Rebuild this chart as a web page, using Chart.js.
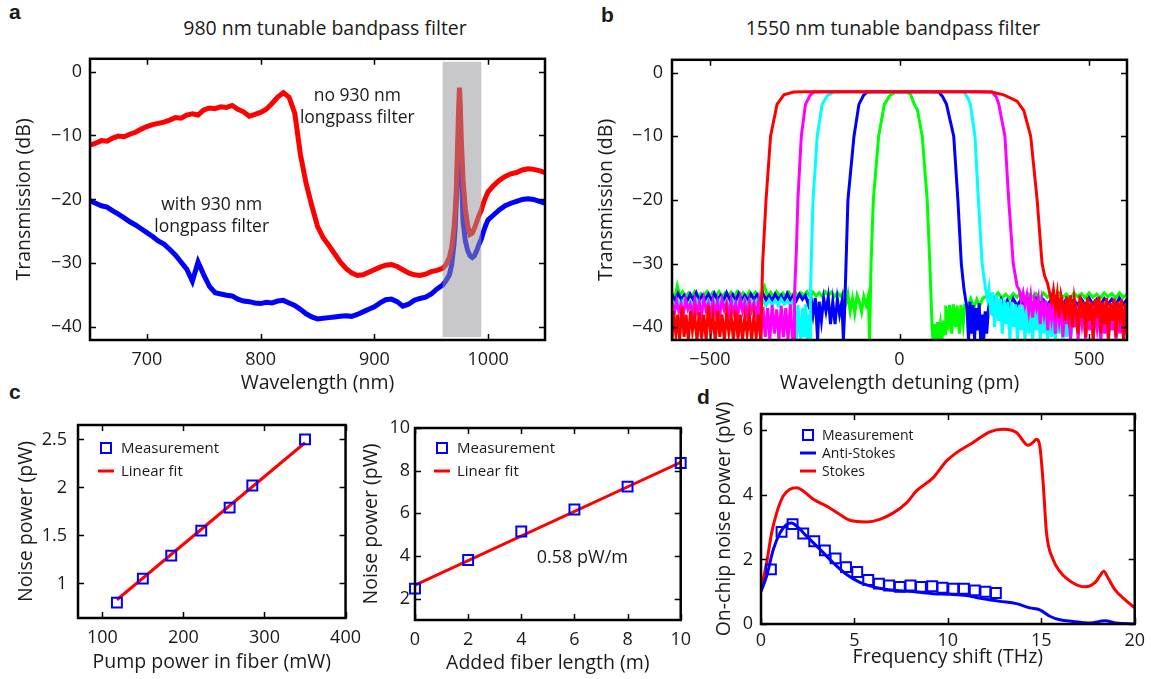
<!DOCTYPE html>
<html>
<head>
<meta charset="utf-8">
<script src="https://cdn.jsdelivr.net/npm/chart.js@4.4.1/dist/chart.umd.min.js"></script>
<style>
body { margin: 0; background: #fff; }
#page { position: relative; width: 1151px; height: 679px; overflow: hidden; font-family: "Open Sans", sans-serif; color: #1a1a1a; }
canvas { position: absolute; }
.lbl { position: absolute; font-family: "Liberation Sans", Arial, sans-serif; font-weight: bold; font-size: 21px; line-height: 20px; }
.ttl { position: absolute; font-size: 19.5px; line-height: 22px; white-space: nowrap; transform: translateX(-50%); }
</style>
</head>
<body>
<div id="page">
	<div class="lbl" style="left:9px; top:2px">a</div>
	<div class="lbl" style="left:601px; top:5px">b</div>
	<div class="lbl" style="left:9px; top:382px">c</div>
	<div class="lbl" style="left:697px; top:387px">d</div>
	<div class="ttl" style="left:325px; top:17px">980 nm tunable bandpass filter</div>
	<div class="ttl" style="left:893px; top:17px">1550 nm tunable bandpass filter</div>
	<canvas id="chart_a" width="560" height="360" style="left:0px; top:40px"></canvas>
	<canvas id="chart_b" width="560" height="360" style="left:580px; top:40px"></canvas>
	<canvas id="chart_c1" width="370" height="279" style="left:0px; top:400px"></canvas>
	<canvas id="chart_c2" width="345" height="279" style="left:355px; top:400px"></canvas>
	<canvas id="chart_d" width="451" height="289" style="left:700px; top:390px"></canvas>
</div>
<script>
// ----------------------------------------------------------------------
// a : 980 nm filter, transmission vs wavelength
const aWave = [650,655,660,665,670,675,680,685,690,695,
	700,705,710,715,720,725,730,735,740,745,
	750,755,760,765,770,775,780,785,790,795,
	800,805,810,815,820,825,830,835,840,845,
	850,855,860,865,870,875,880,885,890,895,
	900,905,910,915,920,925,930,935,940,945,
	950,955,960,
	963,966,968,970,971,972,973,974,974.8,975.5,
	976.5,978,980,982,984,986,988,990,992,994,
	996,998,1000,
	1005,1010,1015,1020,1025,1030,1035,1040,1045,1050]
const aRed = [-11.5,-11.2,-10.8,-10.9,-10.4,-10.1,-10.2,-9.8,-9.5,-9.0,
	-8.6,-8.3,-8.1,-7.9,-7.6,-7.2,-7.3,-6.8,-6.6,-6.8,
	-6.0,-5.7,-5.8,-5.5,-5.6,-5.3,-5.9,-6.3,-7.0,-6.7,
	-6.4,-5.9,-5.0,-4.0,-3.3,-4.0,-6.5,-13.0,-17.5,-21.0,
	-24.2,-26.0,-27.2,-28.5,-29.8,-30.8,-31.5,-31.9,-31.8,-31.4,
	-31.0,-30.6,-30.3,-30.2,-30.5,-31.0,-31.5,-31.8,-31.9,-31.7,
	-31.3,-31.1,-30.8,
	-30.2,-29.0,-27.5,-24.5,-22.0,-18.5,-12.5,-6.0,-2.5,-5.0,
	-11.0,-17.0,-21.5,-24.0,-25.5,-25.3,-24.5,-23.5,-22.5,-21.7,
	-20.5,-19.6,-18.8,
	-17.8,-17.0,-16.4,-16.0,-15.8,-15.4,-15.2,-15.3,-15.5,-15.8]
const aBlue = [-20.2,-20.6,-21.0,-21.2,-21.8,-22.3,-22.9,-23.5,-24.0,-24.6,
	-25.2,-25.8,-26.5,-27.0,-27.8,-28.7,-29.8,-30.9,-32.8,-29.8,
	-31.8,-33.6,-34.6,-34.8,-35.0,-35.1,-35.6,-35.9,-36.0,-36.2,
	-36.3,-36.1,-36.2,-35.9,-35.8,-36.2,-36.6,-37.2,-37.9,-38.4,
	-38.7,-38.6,-38.5,-38.4,-38.3,-38.2,-38.3,-38.0,-37.6,-37.2,
	-36.8,-36.2,-35.7,-35.6,-36.0,-36.7,-36.4,-35.8,-35.5,-35.3,
	-34.8,-34.0,-33.4,
	-32.7,-31.8,-30.2,-27.0,-24.5,-20.5,-15.0,-10.0,-8.0,-10.0,
	-16.0,-23.5,-26.5,-28.0,-28.8,-29.1,-28.8,-28.0,-27.0,-26.2,
	-25.0,-24.0,-23.2,
	-22.4,-21.6,-21.0,-20.6,-20.3,-20.0,-19.9,-20.0,-20.3,-20.6]
const aBand = [960, 994]
const aTicksX = [700, 800, 900, 1000]
const aTicksY = [-40, -30, -20, -10, 0]

// ----------------------------------------------------------------------
// b : 1550 nm filter, five passband settings [detuning pm, dB]
const bRed = [[-600,-42],[-596,-37.5],[-590,-41],[-585,-38],[-580,-42],[-574,-36.8],[-568,-41.5],[-563,-38],[-557,-42],[-551,-37.4],
	[-546,-40.5],[-540,-38.2],[-534,-42],[-528,-37.6],[-522,-41.8],[-516,-38],[-510,-42],[-504,-36.6],[-498,-41],[-492,-38.2],
	[-486,-42],[-480,-37.4],[-474,-41.5],[-468,-38],[-462,-42],[-456,-37.8],[-450,-40.8],[-444,-38.3],[-438,-42],[-432,-37.3],
	[-426,-41.8],[-420,-38],[-414,-42],[-408,-38.4],[-402,-41],[-396,-38],[-390,-42],[-384,-38.2],[-378,-41.5],[-372,-38],[-366,-42],
	[-363,-35],[-361,-30],[-352,-20],[-340,-10],[-323,-5],[-305,-3.5],[-279,-3.05],[-250,-3],[0,-3],[200,-3],
	[243,-3.05],[275,-3.5],[310,-4.5],[328,-6],[346,-10],[363,-20],[376,-30],[383,-32],[390,-33],
	[396,-34.6],[401,-36],[406,-34.2],[411,-37],[416,-34.8],[421,-38.5],[426,-35],[431,-36.5],[436,-39],[441,-35.2],
	[446,-38],[451,-35],[456,-40],[461,-35.5],[466,-37.5],[471,-41],[476,-35],[481,-38.6],[486,-36],[491,-41.5],
	[496,-35.3],[501,-39],[506,-36],[511,-42],[516,-35.6],[521,-38.5],[526,-35.2],[531,-41],[536,-36],[541,-39.5],
	[546,-35.4],[551,-42],[556,-36.2],[561,-39],[566,-35.5],[571,-41.5],[576,-36],[581,-38.4],[586,-35.6],[591,-42],[596,-36.4],[600,-39]]
const bMagenta = [[-600,-36.2],[-594,-37.8],[-588,-35.9],[-582,-37.5],[-576,-36.3],[-570,-38],[-564,-35.7],[-558,-37.2],[-552,-36.4],[-546,-38],
	[-540,-35.8],[-534,-37.6],[-528,-36.1],[-522,-38],[-516,-35.6],[-510,-37.4],[-504,-36.3],[-498,-38],[-492,-35.9],[-486,-37.7],
	[-480,-36],[-474,-38],[-468,-35.7],[-462,-37.3],[-456,-36.2],[-450,-38],[-444,-35.8],[-438,-37.6],[-432,-36.3],[-426,-38],
	[-420,-35.6],[-414,-37.5],[-408,-36.1],[-402,-38],[-396,-35.9],[-390,-37.4],[-384,-36.2],[-378,-38],[-372,-36],[-366,-42],
	[-360,-36.8],[-354,-41.5],[-348,-37],[-342,-42],[-336,-36.5],[-330,-41],[-324,-37.2],[-318,-42],[-312,-36.6],[-306,-41.6],
	[-300,-37],[-294,-42],[-288,-36.4],[-282,-41.8],[-278,-42],
	[-277,-35],[-272,-28],[-268,-20],[-259,-10],[-248,-5],[-236,-3.6],[-226,-3.05],[-200,-3],[200,-3],
	[244,-3.05],[255,-3.8],[262,-5],[278,-10],[288,-20],[300,-30],[310,-33.5],
	[316,-34.2],[321,-35.8],[326,-34.6],[331,-36.5],[336,-35],[341,-37.5],[346,-35.2],[351,-38.5],[356,-35.6],[361,-37],
	[366,-35.5],[371,-39.5],[376,-36],[381,-38],[386,-35.8],[391,-40.5],[396,-36.2],[401,-38.6],[406,-36],[411,-41],
	[416,-36.5],[421,-39],[426,-36.2],[431,-41.5],[436,-36.6],[441,-39.5],[446,-36.4],[451,-42],[456,-37],[461,-40],
	[466,-36.6],[471,-42],[476,-37.2],[481,-39.5],[486,-36.8],[491,-42],[496,-37],[501,-40.5],[506,-36.7],[511,-42],
	[516,-37.4],[521,-40],[526,-37],[531,-42],[536,-37.5],[541,-41],[546,-37.2],[551,-42],[556,-37.6],[561,-40.5],
	[566,-37.4],[571,-42],[576,-37.8],[581,-41],[586,-37.6],[591,-42],[596,-38],[600,-41]]
const bCyan = [[-600,-35.7],[-592,-36.6],[-584,-35.8],[-576,-36.5],[-568,-35.6],[-560,-36.4],[-552,-35.9],[-544,-36.7],[-536,-35.6],[-528,-36.3],
	[-520,-35.8],[-512,-36.6],[-504,-35.7],[-496,-36.5],[-488,-35.9],[-480,-36.6],[-472,-35.6],[-464,-36.4],[-456,-35.8],[-448,-36.7],
	[-440,-35.7],[-432,-36.4],[-424,-35.9],[-416,-36.6],[-408,-35.6],[-400,-36.5],[-392,-35.8],[-384,-36.6],[-376,-35.7],[-368,-36.4],
	[-360,-35.9],[-352,-36.6],[-344,-35.7],[-336,-36.5],[-328,-35.8],[-320,-36.6],[-312,-35.6],[-304,-36.4],[-296,-35.9],[-288,-36.5],
	[-280,-35.7],[-276,-38],[-272,-42],[-268,-36.5],[-264,-40],[-260,-42],[-256,-37],[-252,-41.5],[-248,-36.4],[-244,-42],[-240,-38],[-236,-42],
	[-235,-35],[-232,-28],[-228,-20],[-217,-10],[-204,-5],[-190,-3.6],[-173,-3.05],[-150,-3],[150,-3],
	[170,-3.05],[180,-4],[187,-5],[199,-10],[208,-20],[218,-30],[227,-34],
	[232,-35.5],[236,-34],[241,-38],[246,-34.5],[251,-40],[256,-35],[261,-39],[266,-35.5],[271,-41],[276,-35.6],
	[281,-39.5],[286,-36],[291,-42],[296,-36],[301,-40],[306,-36.4],[311,-42],[316,-36.5],[321,-40.5],[326,-36.6],
	[331,-42],[336,-36.8],[341,-41],[346,-37],[351,-42],[356,-37.4],[361,-40.5],[366,-37],[371,-42],[376,-37.5],
	[381,-41],[386,-37.2],[391,-42],[396,-37.8],[401,-41.5],[406,-37.5],[411,-42],[416,-38],[421,-41],[426,-37.7],
	[431,-42],[436,-38],[441,-41.5],[446,-37.8],[451,-42],[460,-38],[470,-40],[480,-38],[490,-41],[500,-38.2],
	[510,-40.5],[520,-38],[530,-41],[540,-38.3],[550,-40],[560,-38],[570,-41],[580,-38.4],[590,-40],[600,-38.5]]
const bBlue = [[-600,-34.9],[-592,-35.8],[-584,-34.7],[-576,-35.6],[-568,-35],[-560,-35.9],[-552,-34.8],[-544,-35.7],[-536,-34.6],[-528,-35.8],
	[-520,-35],[-512,-35.6],[-504,-34.8],[-496,-35.9],[-488,-34.7],[-480,-35.7],[-472,-35],[-464,-35.8],[-456,-34.6],[-448,-35.6],
	[-440,-34.9],[-432,-35.9],[-424,-34.7],[-416,-35.7],[-408,-35],[-400,-35.8],[-392,-34.8],[-384,-35.6],[-376,-34.9],[-368,-35.9],
	[-360,-34.7],[-352,-35.7],[-344,-35],[-336,-35.8],[-328,-34.8],[-320,-35.6],[-312,-35],[-304,-35.9],[-296,-34.7],[-288,-35.7],
	[-280,-35],[-272,-35.8],[-264,-34.8],[-256,-35.6],[-248,-35],[-240,-36.5],[-234,-35.2],[-228,-38],[-222,-35.4],[-216,-42],
	[-212,-36],[-206,-39],[-200,-35.5],[-194,-37.5],[-188,-35.3],[-182,-39.5],[-176,-36],[-170,-39.5],[-164,-35.6],[-158,-38],[-152,-36],[-148,-42],
	[-145,-38],[-140,-28],[-136,-20],[-120,-10],[-107,-5],[-95,-3.6],[-85,-3.05],[-60,-3],[80,-3],
	[104,-3.05],[114,-3.8],[124,-5],[143,-10],[154,-20],[163,-30],[170,-34],[174,-35.5],
	[178,-37],[182,-42],[186,-36],[190,-41],[194,-36.5],[198,-42],[202,-37],[206,-40.5],[210,-36.2],[214,-42],
	[218,-38],[222,-42],[226,-37.5],[230,-41],[236,-36],[244,-37.5],[252,-35.8],[260,-36.8],[268,-35.6],[276,-36.6],
	[284,-35.8],[292,-36.8],[300,-35.5],[310,-36.6],[320,-35.7],[330,-36.5],[340,-35.6],[350,-36.7],[360,-35.5],[370,-36.4],
	[380,-35.7],[390,-36.6],[400,-35.6],[410,-36.5],[420,-35.8],[430,-36.6],[440,-35.5],[450,-36.4],[460,-35.7],[470,-36.5],
	[480,-35.6],[490,-36.6],[500,-35.4],[510,-36.4],[520,-35.6],[530,-36.5],[540,-35.5],[550,-36.3],[560,-35.6],[570,-36.5],
	[580,-35.4],[590,-36.4],[600,-35.6]]
const bGreen = [[-600,-34.6],[-592,-35.2],[-586,-33.5],[-580,-35],[-572,-34.4],[-564,-35.2],[-556,-34.6],[-548,-35.1],[-540,-34.4],[-532,-35.2],
	[-524,-34.7],[-516,-35],[-508,-34.4],[-500,-35.2],[-492,-34.5],[-484,-35.1],[-476,-34.4],[-468,-35.2],[-460,-34.6],[-452,-35],
	[-444,-34.5],[-436,-35.2],[-428,-34.4],[-420,-35.1],[-412,-34.6],[-404,-35.2],[-396,-34.4],[-388,-35],[-380,-34.5],[-372,-35.2],
	[-364,-34.6],[-356,-33.6],[-348,-35.1],[-340,-34.5],[-332,-35.2],[-324,-34.4],[-316,-35],[-308,-34.6],[-300,-35.2],[-292,-34.5],
	[-284,-35.1],[-276,-34.4],[-268,-35.2],[-260,-34.6],[-252,-35],[-244,-34.4],[-236,-35.2],[-228,-34.5],[-220,-35.1],[-212,-34.6],
	[-204,-35.2],[-196,-34.4],[-188,-35],[-180,-34.5],[-172,-35.2],[-164,-34.6],[-156,-35.1],[-148,-34.5],[-140,-36],[-136,-34.8],
	[-130,-37.5],[-124,-35.5],[-118,-37.8],[-112,-35],[-106,-36],[-100,-37.6],[-94,-35.2],[-88,-36.5],[-82,-35],[-80,-40],
	[-79,-42],[-75,-30],[-69,-20],[-55,-10],[-40,-5],[-25,-3.6],[-10,-3.05],[5,-3],[18,-3.05],[29,-3.4],
	[39,-5],[47,-5.8],[60,-10],[73,-20],[80,-30],[86,-40],
	[88,-42],[92,-39.5],[96,-42],[100,-39.2],[104,-41.5],[108,-39.5],[112,-42],[116,-39],[120,-41],[122,-36.6],
	[128,-40.5],[132,-36.5],[138,-41],[142,-36.4],[148,-40],[152,-36.6],[158,-41],[162,-36.5],[168,-39.5],[172,-36.6],
	[180,-36.8],[188,-35.5],[196,-37],[204,-35.6],[212,-36.6],[220,-35.4],[230,-35.2],[240,-34.8],[250,-35.5],[260,-34.6],
	[270,-35.4],[280,-34.8],[290,-35.5],[300,-34.7],[310,-35.3],[320,-34.6],[330,-35.4],[340,-34.8],[350,-35.3],[360,-34.7],
	[370,-35.5],[380,-34.6],[390,-35.3],[400,-34.8],[410,-35.4],[420,-34.6],[430,-35.3],[440,-34.8],[450,-35.5],[460,-34.6],
	[470,-35.2],[480,-34.7],[490,-35.4],[500,-34.6],[510,-35.3],[520,-34.8],[530,-35.4],[540,-34.6],[550,-35.2],[560,-34.7],
	[570,-35.4],[580,-34.6],[590,-35.3],[600,-34.8]]
const bTicksX = [-500, 0, 500]
const bTicksY = [-40, -30, -20, -10, 0]

// ----------------------------------------------------------------------
// c : noise power vs pump power, and vs added fiber length
const c1Pump = [118, 150, 185, 222, 257, 285, 350]
const c1Noise = [0.80, 1.05, 1.29, 1.55, 1.79, 2.02, 2.50]
const c1FitX = [118, 350]
const c1FitY = [0.83, 2.465]
const c1TicksX = [100, 200, 300, 400]
const c1TicksY = [1, 1.5, 2, 2.5]

const c2Length = [0, 2, 4, 6, 8, 10]
const c2Noise = [2.47, 3.81, 5.15, 6.18, 7.25, 8.36]
const c2FitX = [0, 10]
const c2FitY = [2.63, 8.39]
const c2TicksX = [0, 2, 4, 6, 8, 10]
const c2TicksY = [2, 4, 6, 8, 10]

// ----------------------------------------------------------------------
// d : on-chip noise power vs frequency shift
const dMeasX = [0.53,1.1,1.69,2.26,2.85,3.42,3.99,4.55,5.15,5.74,6.31,6.86,7.43,8.0,8.56,9.16,9.71,10.29,10.86,11.44,12.01,12.57]
const dMeasY = [1.69,2.85,3.09,2.8,2.56,2.28,2.03,1.76,1.61,1.36,1.25,1.19,1.15,1.19,1.15,1.17,1.12,1.09,1.09,1.04,1.0,0.96]
const dAntiX = [0,0.3,0.66,1.02,1.37,1.64,1.91,2.44,3.16,3.87,4.58,5.29,6.01,6.72,7.43,8.32,9.22,10.1,11.0,11.9,12.78,13.67,14.38,14.92,15.46,15.99,16.7,17.6,18.4,19.0,20]
const dAntiY = [1.01,1.48,2.31,2.82,3.08,3.13,3.03,2.72,2.31,1.89,1.53,1.29,1.15,1.07,1.03,0.99,0.94,0.92,0.88,0.78,0.7,0.63,0.5,0.44,0.24,0.13,0.08,0.03,0.1,0.03,0]
const dStokesX = [0,0.3,0.57,0.84,1.19,1.55,1.91,2.26,2.8,3.51,4.22,4.76,5.65,6.36,7.08,7.79,8.32,9.22,9.93,10.46,11.35,12.25,12.96,13.67,14.3,14.56,14.74,14.92,15.1,15.28,15.63,15.99,16.7,17.33,17.86,18.13,18.34,18.57,18.93,19.37,20]
const dStokesY = [1.07,1.89,2.82,3.44,3.96,4.17,4.22,4.12,3.86,3.65,3.39,3.21,3.16,3.24,3.44,3.75,4.12,4.53,5.05,5.3,5.62,5.95,6.03,5.93,5.53,5.62,5.72,5.51,4.37,2.82,2.0,1.63,1.27,1.15,1.27,1.48,1.63,1.43,1.07,0.81,0.5]
const dTicksX = [0, 5, 10, 15, 20]
const dTicksY = [0, 2, 4, 6]

// ----------------------------------------------------------------------
const RED = '#ff0000'
const BLUE = '#0000ff'
const FONT = '"Open Sans", sans-serif'
const TICK_SIZE = 18
const TITLE_SIZE = 19.5

Chart.defaults.font.family = FONT
Chart.defaults.color = '#1a1a1a'

function zip(xs, ys) { return xs.map((x, i) => ({ x: x, y: ys[i] })) }
function pairs(arr) { return arr.map(p => ({ x: p[0], y: p[1] })) }
function minus(v) { return String(v).replace('-', '\u2212') }

// box with inward ticks on all four sides, like the original axes
const boxPlugin = {
	id: 'box',
	afterDraw(chart)
	{
	const ctx = chart.ctx
	const a = chart.chartArea
	const sx = chart.scales.x
	const sy = chart.scales.y
	ctx.save()
	ctx.strokeStyle = '#000'
	ctx.lineWidth = 1.5
	ctx.beginPath()
	sx.ticks.forEach(t => {
		const p = Math.round(sx.getPixelForValue(t.value)) + 0.5
		ctx.moveTo(p, a.bottom); ctx.lineTo(p, a.bottom - 6)
		ctx.moveTo(p, a.top); ctx.lineTo(p, a.top + 6)
		})
	sy.ticks.forEach(t => {
		const p = Math.round(sy.getPixelForValue(t.value)) + 0.5
		ctx.moveTo(a.left, p); ctx.lineTo(a.left + 6, p)
		ctx.moveTo(a.right, p); ctx.lineTo(a.right - 6, p)
		})
	ctx.stroke()
	ctx.lineWidth = 2.5
	ctx.strokeRect(a.left, a.top, a.right - a.left, a.bottom - a.top)
	ctx.restore()
	}
}
Chart.register(boxPlugin)

// ----------------------------------------------------------------------
function axis(min, max, ticks, size, pad, title, tpad, horizontal)
{
	return {
		type: 'linear',
		min: min,
		max: max,
		grid: { display: false, drawTicks: false },
		border: { display: false },
		afterBuildTicks: s => { s.ticks = ticks.map(v => ({ value: v })) },
		afterFit: s => { if (horizontal) s.height = size; else s.width = size },
		ticks: { autoSkip: false, maxRotation: 0, padding: pad,
			font: { size: TICK_SIZE }, color: '#1a1a1a', callback: v => minus(v) },
		title: { display: true, text: title, font: { size: TITLE_SIZE }, color: '#1a1a1a',
			padding: horizontal ? { top: 0, bottom: tpad } : { top: tpad, bottom: 0 } }
		}
}

function line(data, color, width, extra)
{
	return Object.assign({ data: data, borderColor: color, borderWidth: width,
		pointRadius: 0, fill: false, tension: 0, clip: 0 }, extra || {})
}

function squares(data)
{
	return { data: data, showLine: false, pointStyle: 'rect', pointRadius: 7,
		pointBorderWidth: 2, pointBorderColor: BLUE, pointBackgroundColor: 'rgba(0,0,0,0)',
		borderColor: BLUE, clip: false }
}

// legend drawn inside the plot box
function innerLegend(items, ox, oy, dy, tx, size)
{
	return {
		id: 'innerLegend',
		afterDraw(chart)
		{
		const ctx = chart.ctx
		const a = chart.chartArea
		ctx.save()
		ctx.font = size + 'px ' + FONT
		ctx.textBaseline = 'middle'
		ctx.fillStyle = '#1a1a1a'
		items.forEach((it, i) => {
			const x = a.left + ox
			const y = a.top + oy + i * dy
			ctx.strokeStyle = it.color
			if (it.kind == 'rect')
				{
				ctx.lineWidth = 2
				ctx.strokeRect(x - 5, y - 5, 10, 10)
				}
			else
				{
				ctx.lineWidth = 3
				ctx.beginPath(); ctx.moveTo(x - 8, y); ctx.lineTo(x + 8, y); ctx.stroke()
				}
			ctx.fillText(it.text, a.left + tx, y + 1)
			})
		ctx.restore()
		}
	}
}

// free text placed at data coordinates
function notes(list, size)
{
	return {
		id: 'notes',
		afterDraw(chart)
		{
		const ctx = chart.ctx
		ctx.save()
		ctx.font = size + 'px ' + FONT
		ctx.textAlign = 'center'
		ctx.textBaseline = 'middle'
		ctx.fillStyle = '#1a1a1a'
		list.forEach(n => ctx.fillText(n.text,
			chart.scales.x.getPixelForValue(n.x), chart.scales.y.getPixelForValue(n.y)))
		ctx.restore()
		}
	}
}

function make(id, datasets, scales, padding, plugins)
{
	return new Chart(document.getElementById(id), {
		type: 'line',
		data: { datasets: datasets },
		options: {
			responsive: false, animation: false, devicePixelRatio: 1,
			layout: { padding: padding },
			plugins: { legend: { display: false }, tooltip: { enabled: false } },
			scales: scales
			},
		plugins: plugins || []
		})
}

// ----------------------------------------------------------------------
// panel a
const bandPlugin = {
	id: 'band',
	afterDatasetsDraw(chart)
	{
	const ctx = chart.ctx
	const a = chart.chartArea
	const x0 = chart.scales.x.getPixelForValue(aBand[0])
	const x1 = chart.scales.x.getPixelForValue(aBand[1])
	ctx.save()
	ctx.fillStyle = 'rgba(150,150,156,0.52)'
	ctx.fillRect(x0, a.top + 3, x1 - x0, a.bottom - a.top - 6)
	ctx.restore()
	}
}

make('chart_a',
	[ line(zip(aWave, aRed), RED, 5), line(zip(aWave, aBlue), BLUE, 5) ],
	{ x: axis(650, 1050, aTicksX, 60, 9, 'Wavelength (nm)', 5, true),
	  y: axis(-42, 2, aTicksY, 90, 8, 'Transmission (dB)', 13, false) },
	{ left: 0, top: 13, right: 15, bottom: 0 },
	[ bandPlugin, notes([
		{ x: 885, y: -3.85, text: 'no 930 nm' },
		{ x: 885, y: -7.2, text: 'longpass filter' },
		{ x: 757, y: -20.9, text: 'with 930 nm' },
		{ x: 757, y: -24.3, text: 'longpass filter' } ], 17.5) ])

// panel b
make('chart_b',
	[ line(pairs(bRed), RED, 3), line(pairs(bMagenta), '#ff00ff', 3),
	  line(pairs(bCyan), '#00ffff', 3), line(pairs(bBlue), BLUE, 3),
	  line(pairs(bGreen), '#00ff00', 3) ],
	{ x: axis(-600, 600, bTicksX, 60, 9, 'Wavelength detuning (pm)', 5, true),
	  y: axis(-42, 2, bTicksY, 92, 9, 'Transmission (dB)', 15, false) },
	{ left: 0, top: 14, right: 13, bottom: 0 })

// panel c, left
make('chart_c1',
	[ squares(zip(c1Pump, c1Noise)), line(zip(c1FitX, c1FitY), RED, 3) ],
	{ x: axis(70, 400, c1TicksX, 61, 9, 'Pump power in fiber (mW)', 5, true),
	  y: axis(0.64, 2.65, c1TicksY, 78, 11, 'Noise power (pW)', 15, false) },
	{ left: 0, top: 25, right: 20, bottom: 0 },
	[ innerLegend([
		{ kind: 'rect', color: BLUE, text: 'Measurement' },
		{ kind: 'line', color: RED, text: 'Linear fit' } ], 28, 23, 23, 43, 15) ])

// panel c, right
make('chart_c2',
	[ squares(zip(c2Length, c2Noise)), line(zip(c2FitX, c2FitY), RED, 3) ],
	{ x: axis(0, 10, c2TicksX, 59, 9, 'Added fiber length (m)', 4, true),
	  y: axis(1, 10, c2TicksY, 60, 5, 'Noise power (pW)', 5, false) },
	{ left: 0, top: 28, right: 12, bottom: 0 },
	[ innerLegend([
		{ kind: 'rect', color: BLUE, text: 'Measurement' },
		{ kind: 'line', color: RED, text: 'Linear fit' } ], 27, 20, 23, 42, 15),
	  notes([ { x: 6.3, y: 3.9, text: '0.58 pW/m' } ], 18) ])

// panel d
make('chart_d',
	[ squares(zip(dMeasX, dMeasY)),
	  line(zip(dAntiX, dAntiY), BLUE, 3, { cubicInterpolationMode: 'monotone' }),
	  line(zip(dStokesX, dStokesY), RED, 3, { cubicInterpolationMode: 'monotone' }) ],
	{ x: axis(0, 20, dTicksX, 55, 6, 'Frequency shift (THz)', 10, true),
	  y: axis(0, 6.5, dTicksY, 61, 8, 'On-chip noise power (pW)', 13, false) },
	{ left: 0, top: 24, right: 16, bottom: 0 },
	[ innerLegend([
		{ kind: 'rect', color: BLUE, text: 'Measurement' },
		{ kind: 'line', color: BLUE, text: 'Anti-Stokes' },
		{ kind: 'line', color: RED, text: 'Stokes' } ], 47, 21, 18, 61, 14) ])
</script>
</body>
</html>
